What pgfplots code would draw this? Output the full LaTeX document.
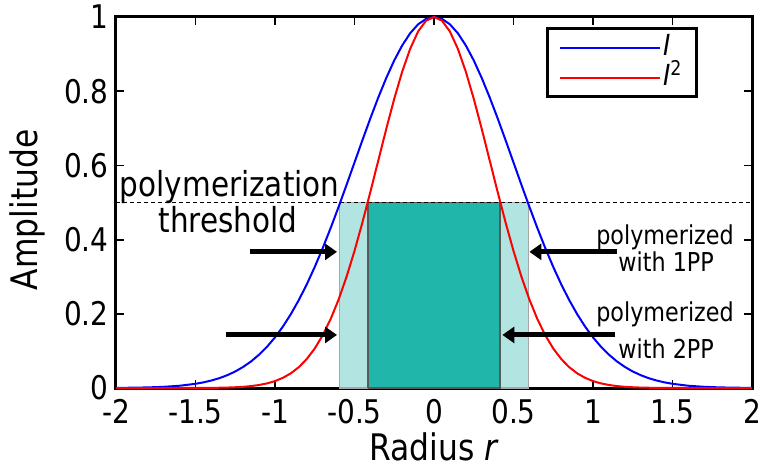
\documentclass[border=0pt]{standalone}
\usepackage{pgfplots}
\pgfplotsset{compat=1.18}
\usepackage{fontspec}
\setmainfont{DejaVu Sans}[FakeStretch=0.857]
\usetikzlibrary{arrows.meta}
\definecolor{darkteal}{RGB}{32,182,170}
\definecolor{lightteal}{RGB}{178,228,225}
\begin{document}
\fontsize{13}{15.6}\selectfont
\begin{tikzpicture}
\useasboundingbox (0,0) rectangle (380pt,233.5pt);
\begin{axis}[
  at={(58pt,39.5pt)}, anchor=south west,
  scale only axis, width=318pt, height=185.5pt,
  xmin=-2, xmax=2, ymin=0, ymax=1,
  xtick={-2,-1.5,...,2}, ytick={0,0.2,...,1},
  xticklabels={-2,-1.5,-1,-0.5,0,0.5,1,1.5,2},
  yticklabels={0,0.2,0.4,0.6,0.8,1},
  tick align=inside, major tick length=4pt,
  tick style={black, line width=0.9pt},
  axis line style={line width=1.5pt},
  tick label style={font=\fontsize{16.3}{18}\selectfont},
  xticklabel style={inner sep=1pt, yshift=-4.5pt},
  yticklabel style={inner sep=2pt, xshift=-1.5pt},
  xlabel={Radius \textit{r}}, ylabel={Amplitude},
  label style={font=\fontsize{18.3}{21}\selectfont},
  xlabel style={at={(axis description cs:0.5,0)}, anchor=base, yshift=-36pt, inner sep=0pt},
  ylabel style={at={(axis description cs:-0.14,0.48)}, anchor=center, inner sep=0pt},
  legend style={at={(rel axis cs:0.915,0.972)}, anchor=north east, draw=black, line width=1.5pt,
    font=\fontsize{14.5}{16}\selectfont, inner xsep=6pt, inner ysep=2pt, row sep=0pt,
    nodes={inner sep=1pt, text height=10.5pt, text depth=2.5pt}},
  legend cell align=left,
  legend image code/.code={\draw[#1, line width=1pt] (0pt,0pt) -- (50pt,0pt);},
]
% rectangles
\addplot[fill=lightteal, draw=gray!70, line width=0.6pt, forget plot] coordinates {(-0.595,0) (-0.595,0.5) (0.595,0.5) (0.595,0) (-0.595,0)};
\addplot[fill=darkteal, draw=black!65, line width=0.6pt, forget plot] coordinates {(-0.415,0) (-0.415,0.5) (0.415,0.5) (0.415,0) (-0.415,0)};
% threshold
\addplot[black, line width=0.6pt, dash pattern=on 2pt off 1.5pt, forget plot] coordinates {(-2,0.5) (2,0.5)};
% I
\addplot[blue, line width=1pt] coordinates {
(-2.0,0.0003) (-1.9,0.0008) (-1.8,0.0016) (-1.7,0.0032) (-1.6,0.0061) (-1.5,0.0113) (-1.45,0.0152) (-1.4,0.0202) (-1.35,0.0265) (-1.3,0.0346) (-1.25,0.0445) (-1.2,0.0569) (-1.15,0.0718) (-1.1,0.0899) (-1.05,0.1113) (-1.0,0.1365) (-0.95,0.1658) (-0.9,0.1993) (-0.85,0.2373) (-0.8,0.2796) (-0.75,0.3263) (-0.7,0.3770) (-0.65,0.4312) (-0.6,0.4883) (-0.55,0.5475) (-0.5,0.6079) (-0.45,0.6682) (-0.4,0.7272) (-0.35,0.7835) (-0.3,0.8359) (-0.25,0.8830) (-0.2,0.9234) (-0.15,0.9562) (-0.1,0.9803) (-0.05,0.9950) (0,1)
(0.05,0.9950) (0.1,0.9803) (0.15,0.9562) (0.2,0.9234) (0.25,0.8830) (0.3,0.8359) (0.35,0.7835) (0.4,0.7272) (0.45,0.6682) (0.5,0.6079) (0.55,0.5475) (0.6,0.4883) (0.65,0.4312) (0.7,0.3770) (0.75,0.3263) (0.8,0.2796) (0.85,0.2373) (0.9,0.1993) (0.95,0.1658) (1.0,0.1365) (1.05,0.1113) (1.1,0.0899) (1.15,0.0718) (1.2,0.0569) (1.25,0.0445) (1.3,0.0346) (1.35,0.0265) (1.4,0.0202) (1.45,0.0152) (1.5,0.0113) (1.6,0.0061) (1.7,0.0032) (1.8,0.0016) (1.9,0.0008) (2.0,0.0003)};
\addlegendentry{\textit{I}}
% I^2
\addplot[red, line width=1pt] coordinates {
(-2.0,0) (-1.9,0) (-1.8,0) (-1.7,0) (-1.6,0) (-1.5,0.0001) (-1.45,0.0002) (-1.4,0.0004) (-1.35,0.0007) (-1.3,0.0012) (-1.25,0.0020) (-1.2,0.0032) (-1.15,0.0052) (-1.1,0.0081) (-1.05,0.0124) (-1.0,0.0186) (-0.95,0.0275) (-0.9,0.0397) (-0.85,0.0563) (-0.8,0.0782) (-0.75,0.1065) (-0.7,0.1421) (-0.65,0.1859) (-0.6,0.2384) (-0.55,0.2998) (-0.5,0.3695) (-0.45,0.4465) (-0.4,0.5289) (-0.35,0.6139) (-0.3,0.6988) (-0.25,0.7797) (-0.2,0.8527) (-0.15,0.9143) (-0.1,0.9610) (-0.05,0.9901) (0,1)
(0.05,0.9901) (0.1,0.9610) (0.15,0.9143) (0.2,0.8527) (0.25,0.7797) (0.3,0.6988) (0.35,0.6139) (0.4,0.5289) (0.45,0.4465) (0.5,0.3695) (0.55,0.2998) (0.6,0.2384) (0.65,0.1859) (0.7,0.1421) (0.75,0.1065) (0.8,0.0782) (0.85,0.0563) (0.9,0.0397) (0.95,0.0275) (1.0,0.0186) (1.05,0.0124) (1.1,0.0081) (1.15,0.0052) (1.2,0.0032) (1.25,0.0020) (1.3,0.0012) (1.35,0.0007) (1.4,0.0004) (1.45,0.0002) (1.5,0.0001) (1.6,0) (1.7,0) (1.8,0) (1.9,0) (2.0,0)};
\addlegendentry{\textit{I}\textsuperscript{2}}
% arrows
\draw[black, line width=2.5pt, -{Triangle[length=6pt,width=8pt]}] (axis cs:-1.16,0.367) -- (axis cs:-0.61,0.367);
\draw[black, line width=2.5pt, -{Triangle[length=6pt,width=8pt]}] (axis cs:-1.31,0.143) -- (axis cs:-0.61,0.143);
\draw[black, line width=2.5pt, -{Triangle[length=6pt,width=8pt]}] (axis cs:1.15,0.367) -- (axis cs:0.60,0.367);
\draw[black, line width=2.5pt, -{Triangle[length=6pt,width=8pt]}] (axis cs:1.14,0.143) -- (axis cs:0.43,0.143);
% texts
\node[anchor=base, font=\fontsize{17.2}{19}\selectfont, inner sep=0pt] at (axis cs:-1.285,0.515) {polymerization};
\node[anchor=base, font=\fontsize{17.2}{19}\selectfont, inner sep=0pt] at (axis cs:-1.295,0.418) {threshold};
\node[anchor=base, font=\fontsize{13}{15}\selectfont, inner sep=0pt] at (axis cs:1.453,0.388) {polymerized};
\node[anchor=base, font=\fontsize{13}{15}\selectfont, inner sep=0pt] at (axis cs:1.46,0.313) {with 1PP};
\node[anchor=base, font=\fontsize{13}{15}\selectfont, inner sep=0pt] at (axis cs:1.453,0.179) {polymerized};
\node[anchor=base, font=\fontsize{13}{15}\selectfont, inner sep=0pt] at (axis cs:1.46,0.079) {with 2PP};
\end{axis}
\end{tikzpicture}
\end{document}
